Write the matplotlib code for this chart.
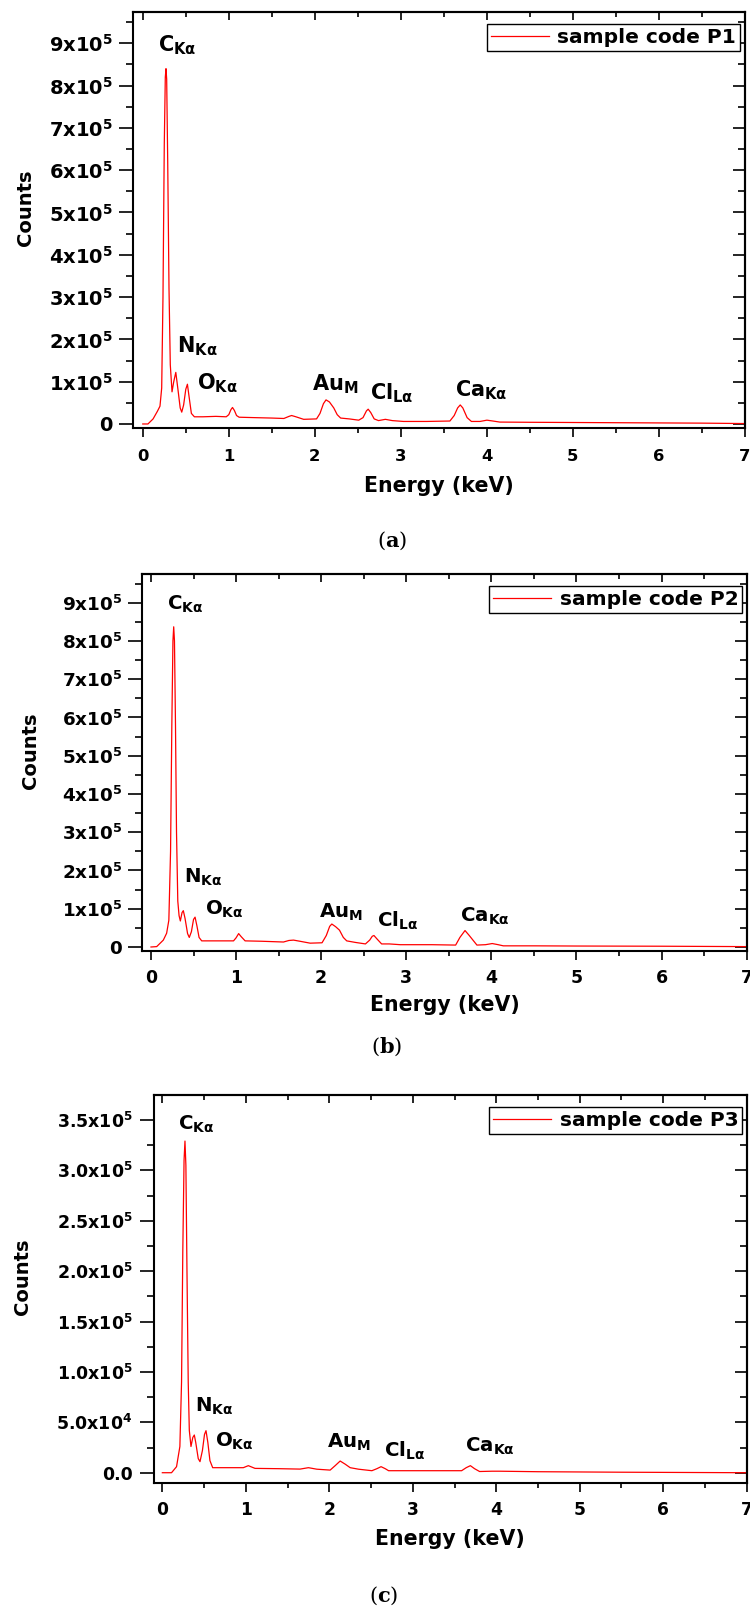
import numpy as np
import matplotlib
matplotlib.use("Agg")
import matplotlib.pyplot as plt
from matplotlib.ticker import MultipleLocator

# ---------------- data (energy in keV, counts in units of 1e5) ----------------
energy_a = [0.00, 0.06, 0.12, 0.17, 0.20, 0.22, 0.235, 0.25, 0.262, 0.270, 0.278, 0.29,
            0.305, 0.32, 0.34, 0.36, 0.384, 0.41, 0.435, 0.453, 0.475, 0.50, 0.519, 0.54,
            0.565, 0.60, 0.70, 0.85, 0.97, 1.00, 1.025, 1.043, 1.065, 1.09, 1.12, 1.30,
            1.50, 1.64, 1.70, 1.73, 1.78, 1.87, 2.02, 2.06, 2.10, 2.13, 2.17, 2.22, 2.26,
            2.30, 2.40, 2.51, 2.56, 2.60, 2.62, 2.65, 2.69, 2.74, 2.82, 2.90, 3.03, 3.30,
            3.57, 3.62, 3.66, 3.69, 3.72, 3.77, 3.82, 3.92, 4.00, 4.07, 4.15, 4.5, 5.0,
            5.5, 6.0, 6.5, 7.0]
counts_a = [0.0, 0.0, 0.12, 0.30, 0.42, 0.85, 3.0, 6.6, 8.2, 8.40, 8.15, 6.2,
            3.2, 1.4, 0.76, 1.0, 1.22, 0.80, 0.38, 0.28, 0.45, 0.82, 0.94, 0.62,
            0.25, 0.17, 0.17, 0.18, 0.17, 0.22, 0.34, 0.39, 0.32, 0.20, 0.16, 0.15,
            0.14, 0.13, 0.18, 0.20, 0.17, 0.11, 0.12, 0.25, 0.48, 0.57, 0.52, 0.38, 0.22,
            0.14, 0.12, 0.09, 0.15, 0.31, 0.35, 0.27, 0.12, 0.08, 0.11, 0.08, 0.06, 0.06,
            0.07, 0.20, 0.38, 0.45, 0.38, 0.15, 0.06, 0.06, 0.09, 0.07, 0.045, 0.04, 0.035,
            0.03, 0.025, 0.02, 0.01]

energy_b = [0.00, 0.067, 0.145, 0.184, 0.21, 0.23, 0.245, 0.258, 0.267, 0.276, 0.288, 0.30,
            0.315, 0.33, 0.345, 0.365, 0.38, 0.40, 0.43, 0.45, 0.475, 0.50, 0.518, 0.54,
            0.565, 0.596, 0.75, 0.97, 1.00, 1.03, 1.06, 1.106, 1.30, 1.557, 1.62, 1.675,
            1.75, 1.87, 2.01, 2.06, 2.10, 2.125, 2.17, 2.215, 2.26, 2.30, 2.40, 2.52, 2.57,
            2.60, 2.62, 2.66, 2.71, 2.80, 2.93, 3.30, 3.58, 3.63, 3.69, 3.74, 3.83, 3.93,
            4.01, 4.08, 4.14, 4.5, 5.0, 6.0, 7.0]
counts_b = [0.0, 0.01, 0.18, 0.36, 0.70, 2.5, 5.8, 8.0, 8.37, 8.0, 5.8, 3.0,
            1.2, 0.82, 0.68, 0.90, 0.95, 0.75, 0.35, 0.25, 0.40, 0.72, 0.78, 0.55,
            0.25, 0.16, 0.16, 0.16, 0.24, 0.35, 0.27, 0.16, 0.15, 0.13, 0.17, 0.18,
            0.15, 0.10, 0.11, 0.30, 0.54, 0.60, 0.53, 0.44, 0.25, 0.16, 0.12, 0.08, 0.18,
            0.28, 0.30, 0.20, 0.08, 0.08, 0.06, 0.06, 0.05, 0.25, 0.43, 0.30, 0.05, 0.06,
            0.09, 0.06, 0.03, 0.03, 0.025, 0.02, 0.01]

energy_c = [0.00, 0.11, 0.17, 0.21, 0.23, 0.245, 0.26, 0.271, 0.282, 0.295, 0.31, 0.323,
            0.343, 0.365, 0.383, 0.40, 0.43, 0.451, 0.48, 0.505, 0.523, 0.545, 0.57, 0.603,
            0.80, 0.97, 1.03, 1.11, 1.40, 1.65, 1.75, 1.85, 2.01, 2.07, 2.13, 2.19, 2.25,
            2.35, 2.51, 2.57, 2.62, 2.67, 2.71, 2.85, 3.30, 3.585, 3.64, 3.69, 3.74, 3.80,
            3.95, 4.04, 4.5, 5.5, 7.0]
counts_c = [0.0, 0.0, 0.06, 0.26, 0.9, 2.2, 3.1, 3.29, 3.05, 2.0, 0.9, 0.42,
            0.26, 0.35, 0.374, 0.30, 0.14, 0.11, 0.22, 0.38, 0.417, 0.30, 0.12, 0.05,
            0.05, 0.05, 0.07, 0.043, 0.04, 0.036, 0.05, 0.035, 0.026, 0.07, 0.116, 0.085, 0.05,
            0.035, 0.02, 0.04, 0.06, 0.04, 0.02, 0.02, 0.02, 0.02, 0.05, 0.07, 0.04, 0.012,
            0.015, 0.015, 0.01, 0.005, 0.0]

legend_labels = ["sample code P1", "sample code P2", "sample code P3"]
captions = ["a", "b", "c"]

x_ticks = [0, 1, 2, 3, 4, 5, 6, 7]
x_tick_labels = ["0", "1", "2", "3", "4", "5", "6", "7"]

y_ticks_ab = [0, 1e5, 2e5, 3e5, 4e5, 5e5, 6e5, 7e5, 8e5, 9e5]
y_tick_labels_ab = ["0"] + [r"$\mathbf{%dx10^{5}}$" % k for k in range(1, 10)]
y_ticks_c = [0, 0.5e5, 1.0e5, 1.5e5, 2.0e5, 2.5e5, 3.0e5, 3.5e5]
y_tick_labels_c = ["0.0", r"$\mathbf{5.0x10^{4}}$", r"$\mathbf{1.0x10^{5}}$",
                   r"$\mathbf{1.5x10^{5}}$", r"$\mathbf{2.0x10^{5}}$",
                   r"$\mathbf{2.5x10^{5}}$", r"$\mathbf{3.0x10^{5}}$",
                   r"$\mathbf{3.5x10^{5}}$"]

peak_elements = ["C", "N", "O", "Au", "Cl", "Ca"]
peak_lines = [r"K\alpha", r"K\alpha", r"K\alpha", r"M", r"L\alpha", r"K\alpha"]

# ---------------- style / layout ----------------
plt.rcParams["font.family"] = ["DejaVu Sans"]
plt.rcParams["font.weight"] = "bold"
plt.rcParams["mathtext.fontset"] = "dejavusans"
plt.rcParams["mathtext.default"] = "bf"

W, H = 750, 1607
fig = plt.figure(figsize=(W / 100, H / 100), dpi=100)


def px_rect(l, t, r, b):
    return [l / W, 1 - b / H, (r - l) / W, (b - t) / H]


panels = [
    dict(E=energy_a, C=counts_a, rect=px_rect(133.3, 12, 745, 428),
         xlim=(-0.11, 7.0), ylim=(-0.095e5, 9.74e5),
         yt=y_ticks_ab, ytl=y_tick_labels_ab, yminor=0.5e5,
         ytfs=14, xtfs=11.8, xpad=8.5, ypad=4.8, afs=15,
         ann=[(0.18, 8.80), (0.395, 1.69), (0.63, 0.82), (1.965, 0.80), (2.645, 0.57), (3.63, 0.65)],
         leg=(0.9918, 0.9704), counts_xy=(25, 208), xlab_y=492, cap_xy=(392, 541)),
    dict(E=energy_b, C=counts_b, rect=px_rect(142.3, 574, 746.7, 950.7),
         xlim=(-0.102, 7.0), ylim=(-0.097e5, 9.75e5),
         yt=y_ticks_ab, ytl=y_tick_labels_ab, yminor=0.5e5,
         ytfs=13.2, xtfs=12.5, xpad=6.5, ypad=4.5, afs=14.2,
         ann=[(0.184, 8.81), (0.39, 1.69), (0.63, 0.84), (1.97, 0.77), (2.65, 0.53), (3.63, 0.66)],
         leg=(0.9927, 0.9689), counts_xy=(30.5, 751), xlab_y=1011, cap_xy=(387, 1047)),
    dict(E=energy_c, C=counts_c, rect=px_rect(154, 1095, 746.7, 1482.7),
         xlim=(-0.10, 7.0), ylim=(-0.099e5, 3.747e5),
         yt=y_ticks_c, ytl=y_tick_labels_c, yminor=0.25e5,
         ytfs=12.5, xtfs=12.3, xpad=6.5, ypad=5.5, afs=14.2,
         ann=[(0.19, 3.40), (0.39, 0.605), (0.63, 0.26), (1.97, 0.25), (2.65, 0.16), (3.625, 0.21)],
         leg=(0.9926, 0.9698), counts_xy=(22.5, 1277), xlab_y=1545, cap_xy=(384, 1596)),
]

for i, p in enumerate(panels):
    ax = fig.add_axes(p["rect"])
    E = np.array(p["E"])
    C = np.array(p["C"]) * 1e5
    ax.plot(E, C, color="#ff0000", lw=0.9, label=legend_labels[i])
    ax.set_xlim(*p["xlim"])
    ax.set_ylim(*p["ylim"])

    ax.set_xticks(x_ticks)
    ax.set_xticklabels(x_tick_labels)
    ax.xaxis.set_minor_locator(MultipleLocator(0.5))
    ax.set_yticks(p["yt"])
    ax.set_yticklabels(p["ytl"])
    ax.yaxis.set_minor_locator(MultipleLocator(p["yminor"]))

    ax.tick_params(axis="x", which="major", direction="out", length=6.5, width=1.2,
                   pad=p["xpad"], labelsize=p["xtfs"])
    ax.tick_params(axis="x", which="minor", direction="out", length=3.5, width=1.2)
    ax.tick_params(axis="y", which="major", direction="out", length=10, width=1.2,
                   pad=p["ypad"], labelsize=p["ytfs"])
    ax.tick_params(axis="y", which="minor", direction="out", length=5, width=1.2)
    for s in ax.spines.values():
        s.set_linewidth(1.5)

    sx = ax.secondary_xaxis("top")
    sx.set_xticks(x_ticks)
    sx.xaxis.set_minor_locator(MultipleLocator(0.5))
    sx.tick_params(which="major", direction="in", length=6, width=1.2,
                   labeltop=False, labelbottom=False)
    sx.tick_params(which="minor", direction="in", length=3.5, width=1.2)
    sx.spines["top"].set_linewidth(1.5)

    sy = ax.secondary_yaxis("right")
    sy.set_yticks(p["yt"])
    sy.yaxis.set_minor_locator(MultipleLocator(p["yminor"]))
    sy.tick_params(which="major", direction="in", length=9, width=1.2,
                   labelright=False, labelleft=False)
    sy.tick_params(which="minor", direction="in", length=5, width=1.2)
    sy.spines["right"].set_linewidth(1.5)

    for (el, ln), (xa, ya) in zip(zip(peak_elements, peak_lines), p["ann"]):
        ax.text(xa, ya * 1e5, r"$\mathbf{%s_{%s}}$" % (el, ln), fontsize=p["afs"],
                ha="left", va="baseline", color="black")

    leg = ax.legend(loc="upper right", bbox_to_anchor=p["leg"], borderaxespad=0,
                    frameon=True, fancybox=False, edgecolor="black", framealpha=1,
                    fontsize=14.5, handlelength=2.9, handletextpad=0.4, borderpad=0.2)
    leg.get_frame().set_linewidth(1.0)

    cx, cy = p["counts_xy"]
    fig.text(cx / W, 1 - cy / H, "Counts", rotation=90, fontsize=14,
             ha="center", va="center")
    ax_l, ax_r = p["rect"][0] * W, (p["rect"][0] + p["rect"][2]) * W
    fig.text((ax_l + ax_r) / 2 / W, 1 - p["xlab_y"] / H, "Energy (keV)",
             fontsize=14.8, ha="center", va="baseline")
    kx, ky = p["cap_xy"]
    fig.text(kx / W, 1 - ky / H, r"($\mathbf{%s}$)" % captions[i], fontsize=15,
             family="DejaVu Serif", math_fontfamily="dejavuserif", weight="normal",
             ha="center", va="center")

fig.savefig("out.png", dpi=100)
